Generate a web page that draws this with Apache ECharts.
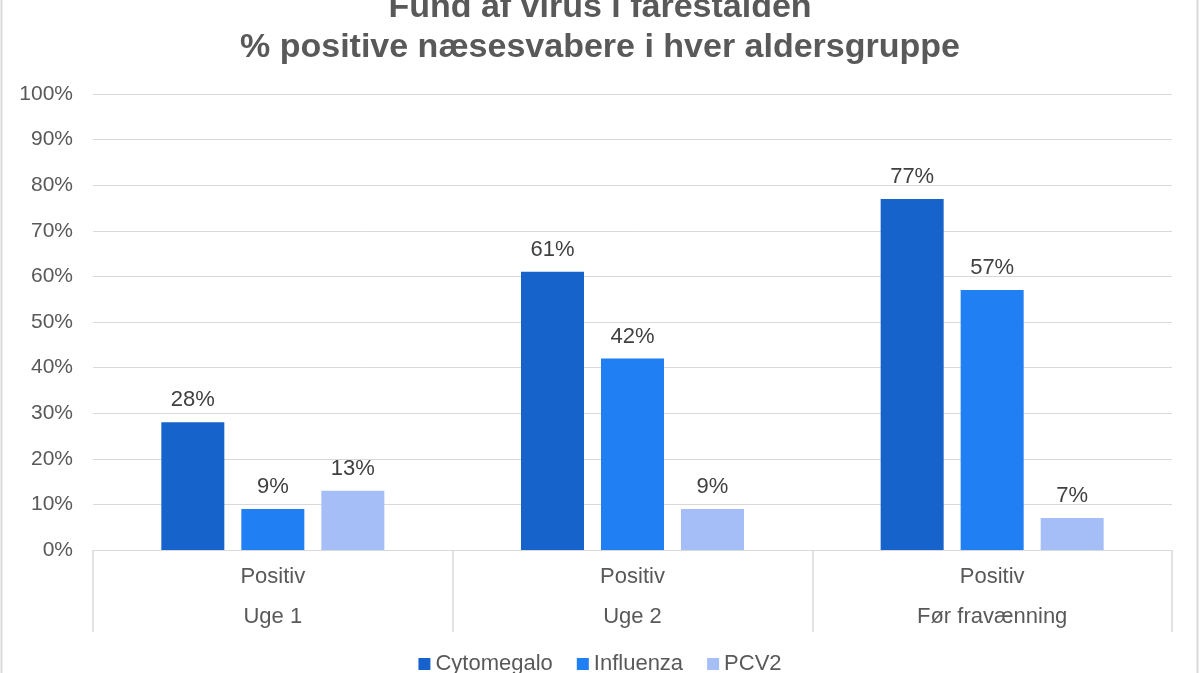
<!DOCTYPE html>
<html>
<head>
<meta charset="utf-8">
<script src="https://cdn.jsdelivr.net/npm/echarts@6/dist/echarts.min.js"></script>
<style>
html,body{margin:0;padding:0;background:#fff;}
#chart{width:1200px;height:673px;}
</style>
</head>
<body>
<div id="chart"></div>
<script>
const titleLines = ["Fund af virus i farestalden", "% positive næsesvabere i hver aldersgruppe"];
const subCategories = ["Positiv", "Positiv", "Positiv"];
const groups = ["Uge 1", "Uge 2", "Før fravænning"];
const seriesNames = ["Cytomegalo", "Influenza", "PCV2"];
const cytomegalo = [28, 61, 77];
const influenza = [9, 42, 57];
const pcv2 = [13, 9, 7];
const colors = ["#1763CC", "#1F7FF3", "#A6BEF8"];

const chart = echarts.init(document.getElementById('chart'), null, {renderer: 'canvas'});
const font = "'Liberation Sans', Arial, sans-serif";
const values = [cytomegalo, influenza, pcv2];

chart.setOption({
  backgroundColor: '#fff',
  animation: false,
  textStyle: {fontFamily: font},
  title: {
    text: titleLines.join('\n'),
    left: 'center',
    top: -17,
    textStyle: {fontFamily: font, fontSize: 34, fontWeight: 'bold', color: '#595959', lineHeight: 40}
  },
  legend: {
    bottom: -7,
    left: 'center',
    icon: 'rect',
    itemWidth: 12,
    itemHeight: 12,
    itemGap: 24,
    textStyle: {fontFamily: font, fontSize: 22, color: '#595959', padding: [0,0,0,0]},
    data: seriesNames
  },
  grid: {left: 93, right: 28, top: 94, bottom: 123},
  xAxis: [
    {
      type: 'category',
      data: subCategories,
      position: 'bottom',
      axisLine: {show: true, lineStyle: {color: '#D9D9D9', width: 1}},
      axisTick: {show: true, length: 82, interval: 0, lineStyle: {color: '#D9D9D9', width: 1.5}},
      axisLabel: {margin: 16, fontSize: 22, color: '#595959', fontFamily: font, interval: 0}
    },
    {
      type: 'category',
      data: groups,
      position: 'bottom',
      offset: 40,
      axisLine: {show: false},
      axisTick: {show: false},
      axisLabel: {margin: 16, fontSize: 22, color: '#595959', fontFamily: font, interval: 0}
    }
  ],
  yAxis: {
    type: 'value',
    min: 0, max: 100, interval: 10,
    axisLine: {show: false},
    axisTick: {show: false},
    axisLabel: {formatter: '{value}%', fontSize: 21, color: '#595959', margin: 20, fontFamily: font},
    splitLine: {lineStyle: {color: '#D9D9D9', width: 1}}
  },
  series: seriesNames.map((n, i) => ({
    name: n,
    type: 'bar',
    xAxisIndex: 0,
    data: values[i],
    barWidth: 63,
    barGap: '27%',
    itemStyle: {color: colors[i]},
    label: {show: true, position: 'top', distance: 11, formatter: '{c}%', fontSize: 22, color: '#404040', fontFamily: font}
  })),
  graphic: [
    {type: 'line', shape: {x1: 1.5, y1: 0, x2: 1.5, y2: 673}, style: {stroke: '#D9D9D9', lineWidth: 2}},
    {type: 'line', shape: {x1: 1197.5, y1: 0, x2: 1197.5, y2: 673}, style: {stroke: '#D9D9D9', lineWidth: 2}}
  ]
});
</script>
</body>
</html>
